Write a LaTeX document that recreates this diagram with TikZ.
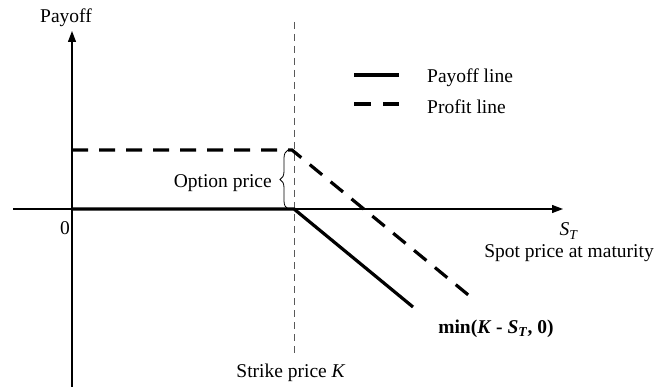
\documentclass[tikz,border=0pt]{standalone}
\usepackage{fontspec}
\setmainfont{Liberation Serif}
\usetikzlibrary{decorations.pathreplacing,arrows.meta}
\newcommand{\ST}{\textit{S}\textsubscript{\textit{T}}}
\begin{document}
\begin{tikzpicture}[x=1pt,y=-1pt,
  font=\fontsize{19.5}{22}\selectfont,
  axisline/.style={line width=1.2pt,-{Triangle[length=11pt,width=8pt]}},
  payoffline/.style={line width=3.2pt},
  profitline/.style={line width=3.2pt,dash pattern=on 16pt off 11pt},
  strikeline/.style={line width=1pt,dash pattern=on 7pt off 5pt,gray!70!black},
  lbl/.style={inner sep=0pt}]
\useasboundingbox (0,0) rectangle (655,387);
% coordinates
\coordinate (xs) at (13,209);
\coordinate (xe) at (563,209);
\coordinate (ys) at (72,387);
\coordinate (ye) at (72,31);
\coordinate (O) at (72,209);
\coordinate (K) at (294,209);
\coordinate (Pend) at (413,307);
\coordinate (D0) at (72,150);
\coordinate (DK) at (292,150);
\coordinate (Dend) at (472,298);
\coordinate (vt) at (294,22);
\coordinate (vb) at (294,356);
\coordinate (bt) at (288,150);
\coordinate (bb) at (288,209);
\coordinate (l1a) at (354,75);
\coordinate (l1b) at (399,75);
\coordinate (l2a) at (354,104);
\coordinate (l2b) at (399,104);
% axes
\draw[axisline] (xs) -- (xe);
\draw[axisline] (ys) -- (ye);
% strike vertical
\draw[strikeline] (vt) -- (vb);
% payoff and profit
\draw[payoffline] (O) -- (K) -- (Pend);
\draw[profitline] (D0) -- (DK) -- (Dend);
% brace
\draw[line width=0.8pt,decorate,decoration={brace,amplitude=8pt}] (bb) -- (bt);
\node[lbl,anchor=east] (opt) at (272,183) {Option price};
% legend
\draw[payoffline] (l1a) -- (l1b);
\draw[line width=3.2pt,dash pattern=on 17pt off 12pt] (l2a) -- (l2b);
\node[lbl,anchor=west] (leg1) at (427,78) {Payoff line};
\node[lbl,anchor=west] (leg2) at (427,107) {Profit line};
% labels
\node[lbl] (payoff) at (66,18) {Payoff};
\node[lbl] (zero) at (65,228) {0};
\node[lbl] (st) at (569,231) {\ST};
\node[lbl] (spot) at (569,253) {Spot price at maturity};
\node[lbl] (strike) at (291,373) {Strike price \textit{K}};
\node[lbl] (minlbl) at (496,329) {\textbf{min(\textit{K} - \textit{S}\textsubscript{\textit{T}}, 0)}};
\end{tikzpicture}
\end{document}
